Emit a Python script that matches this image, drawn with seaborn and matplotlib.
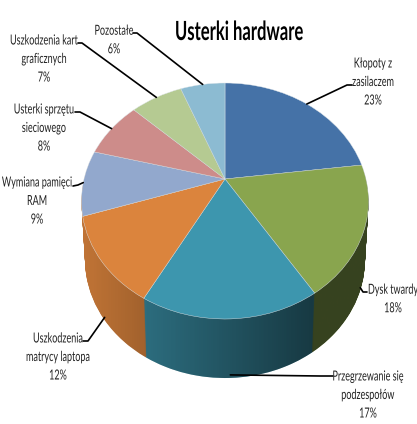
import numpy as np
import matplotlib
matplotlib.use("Agg")
import matplotlib.pyplot as plt
import matplotlib.patheffects as pe
from matplotlib.path import Path
from matplotlib.transforms import Affine2D, Bbox, Transform
import seaborn as sns

names = ["Kłopoty z\nzasilaczem", "Dysk twardy", "Przegrzewanie się\npodzespołów",
         "Uszkodzenia\nmatrycy laptopa", "Wymiana pamięci\nRAM", "Usterki sprzętu\nsieciowego",
         "Uszkodzenia kart\ngraficznych", "Pozostałe"]
values = [23, 18, 17, 12, 9, 8, 7, 6]
colors = ["#4572A7", "#89A54E", "#3D96AE", "#DB843D", "#92A8CD", "#CD8C8A", "#B5CA92", "#8CBBD2"]
title = "Usterki hardware"

# label centre, elbow and which layer the leader lands on
label_pos = [(373, 82), (393, 299), (368, 395), (58, 357), (37, 201), (44, 128), (44, 59), (114, 40)]
elbows = [[(352, 85), (347, 85)], [(367, 292), (363, 292)], [(333, 376), (320, 376)],
          [(83, 341), (88, 341)], [(73, 186), (78, 185)], [(75, 112), (80, 112)],
          [(78, 43), (82, 43)], [(133, 33), (137, 33)]]
on_wall = [False, True, True, True, False, False, False, False]

sns.set_theme(style="white")
plt.rcParams['font.family'] = ['Lato', 'DejaVu Sans']

CX, CY, RX, RY, P = 225, 179, 141.0, 113.9, 0.1864
DEPTH = 59


class Tilt(Transform):
    # circle of radius 1 -> tilted disc with the apex off centre, like the excel 3d pie
    input_dims = 2
    output_dims = 2
    is_separable = False
    has_inverse = False

    def __init__(self, drop=0.0):
        super().__init__()
        self.drop = drop

    def transform_non_affine(self, pts):
        pts = np.asarray(pts, dtype=float)
        w = 1 + P * pts[:, 1]
        shrink = 1 - 0.025 * self.drop / DEPTH
        return np.column_stack([CX + RX * shrink * pts[:, 0] / w,
                                CY + self.drop - RY * pts[:, 1] / w])


class Squeeze(pe.AbstractPathEffect):
    # the reference text is horizontally squashed, no condensed font is installed
    def __init__(self, sx, cx):
        super().__init__()
        self.sx = sx
        self.cx = cx

    def draw_path(self, renderer, gc, tpath, affine, rgbFace=None):
        sq = Affine2D().translate(-self.cx, 0).scale(self.sx, 1).translate(self.cx, 0)
        renderer.draw_path(gc, tpath, affine + sq, rgbFace)


def narrow_text(x, y, s, sx, **kw):
    txt = ax.text(x, y, s, ha="center", va="center", zorder=5, **kw)
    txt.set_path_effects([Squeeze(sx, x)])
    full_extent = txt.get_window_extent

    # report the box that is really drawn
    def extent(renderer=None, dpi=None):
        bb = full_extent(renderer, dpi)
        return Bbox.from_extents(x + (bb.x0 - x) * sx, bb.y0, x + (bb.x1 - x) * sx, bb.y1)

    txt.get_window_extent = extent
    return txt


fig = plt.figure(figsize=(4.17, 4.24), dpi=100)
ax = fig.add_axes([0, 0, 1, 1])

# the purple slice shows no side wall in the reference
wall_colors = list(colors)
wall_colors[4] = colors[3]

drops = np.arange(DEPTH, 0, -1.0)
for drop in drops:
    wedges, _ = ax.pie(values, colors=wall_colors, startangle=90, counterclock=False,
                       wedgeprops=dict(linewidth=0, zorder=1))
    for w in wedges:
        w.set_transform(Tilt(drop) + ax.transData)

wedges, _ = ax.pie(values, colors=sns.color_palette(colors), startangle=90, counterclock=False,
                   wedgeprops=dict(linewidth=0.3, edgecolor="#dfe6ea", zorder=3))
for w in wedges:
    w.set_transform(Tilt() + ax.transData)

ax.set_aspect("auto")
ax.axis("off")

# darkening of the side wall, left to right
xs = np.linspace(80, 372, 200)
shade = np.zeros((1, xs.size, 4))
shade[..., 3] = np.interp(xs, [82, 144, 146, 313, 315, 372], [0.12, 0.26, 0.28, 0.62, 0.6, 0.6])
im = ax.imshow(shade, extent=(80, 372, 424, 0), aspect="auto", zorder=2)
ax.set_xlim(0, 417)
ax.set_ylim(424, 0)
clip = Path.make_compound_path(*[Tilt(d).transform_path(Path.unit_circle()) for d in drops])
im.set_clip_path(clip, ax.transData)

# labels and leader lines
edges = np.cumsum([0] + values) / sum(values) * 2 * np.pi
for i, (name, val) in enumerate(zip(names, values)):
    mid = (edges[i] + edges[i + 1]) / 2
    rim = np.array([[np.sin(mid), np.cos(mid)]])
    tip = Tilt(DEPTH - 3 if on_wall[i] else 0).transform_non_affine(rim)[0]
    pts = np.array(elbows[i] + [tuple(tip)])
    ax.plot(pts[:, 0], pts[:, 1], color="black", lw=1.2, zorder=4, solid_capstyle="round")
    narrow_text(label_pos[i][0], label_pos[i][1], f"{name}\n{val}%", 0.65,
                fontsize=10, linespacing=1.65, color="#222222")

narrow_text(239, 32, title, 0.63, fontsize=19, fontweight="bold", color="black")

fig.savefig("out.png", dpi=100, facecolor="white")
